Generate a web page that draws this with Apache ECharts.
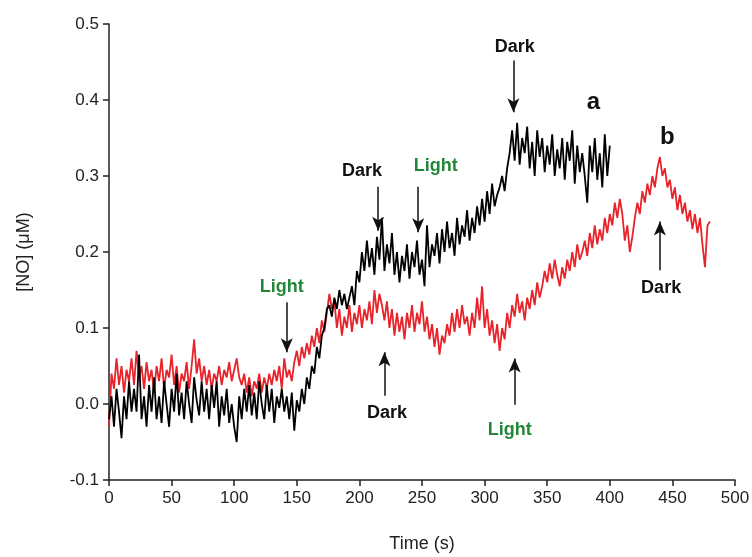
<!DOCTYPE html>
<html><head><meta charset="utf-8">
<script src="https://cdn.jsdelivr.net/npm/echarts@6/dist/echarts.min.js"></script>
<style>html,body{margin:0;padding:0;background:#fff}#c{width:752px;height:557px}</style>
</head><body><div id="c"></div>
<script>
const timeStep = 2;
const seriesA = [
-0.02,0.01,-0.03,0.02,-0.01,-0.045,0.01,-0.02,0.03,-0.01,
0.02,-0.01,0.065,-0.02,0.01,-0.03,0.025,-0.01,0.035,-0.02,
0.01,-0.025,0.03,0.0,-0.03,0.02,-0.01,0.04,-0.015,0.015,
-0.02,0.03,0.0,-0.025,0.035,0.005,-0.015,0.03,-0.01,0.02,
-0.02,0.025,-0.005,0.03,-0.03,0.01,-0.015,0.02,-0.025,0.0,
-0.03,-0.05,0.01,-0.02,0.02,-0.01,0.025,-0.015,0.015,-0.02,
0.03,0.0,-0.02,0.025,-0.01,0.02,-0.025,0.01,-0.005,0.02,
-0.01,0.01,-0.02,0.015,-0.035,0.005,-0.01,0.02,0.0,0.035,
0.02,0.05,0.04,0.075,0.06,0.09,0.1,0.125,0.13,0.115,
0.14,0.125,0.15,0.13,0.145,0.125,0.14,0.155,0.13,0.175,
0.16,0.2,0.175,0.215,0.18,0.205,0.17,0.22,0.19,0.245,
0.175,0.21,0.185,0.225,0.17,0.2,0.16,0.195,0.175,0.21,
0.165,0.2,0.18,0.215,0.17,0.19,0.155,0.235,0.18,0.21,
0.195,0.225,0.185,0.23,0.2,0.24,0.205,0.225,0.195,0.245,
0.21,0.235,0.22,0.255,0.215,0.245,0.225,0.26,0.235,0.27,
0.24,0.28,0.25,0.29,0.26,0.275,0.285,0.3,0.28,0.31,
0.33,0.36,0.32,0.37,0.315,0.35,0.33,0.365,0.31,0.345,
0.3,0.36,0.325,0.35,0.305,0.34,0.315,0.355,0.3,0.335,
0.31,0.35,0.295,0.345,0.32,0.36,0.29,0.34,0.305,0.33,
0.3,0.265,0.34,0.305,0.35,0.295,0.33,0.285,0.355,0.3,
0.34
];
const seriesB = [
-0.03,0.04,0.02,0.06,0.025,0.05,0.015,0.045,0.03,0.06,
0.025,0.07,0.035,0.05,0.02,0.055,0.03,0.045,0.015,0.05,
0.03,0.06,0.02,0.045,0.035,0.065,0.025,0.05,0.015,0.04,
0.03,0.055,0.02,0.05,0.085,0.04,0.06,0.03,0.05,0.025,
0.045,0.02,0.04,0.03,0.05,0.025,0.045,0.035,0.055,0.03,
0.045,0.06,0.035,0.025,0.04,0.015,0.035,0.01,0.03,0.02,
0.04,0.015,0.035,0.02,0.04,0.025,0.045,0.03,0.05,0.02,
0.06,0.035,0.045,0.03,0.055,0.07,0.05,0.075,0.06,0.08,
0.065,0.09,0.075,0.1,0.08,0.11,0.095,0.12,0.145,0.125,
0.135,0.1,0.125,0.09,0.115,0.1,0.13,0.095,0.12,0.105,
0.13,0.1,0.125,0.11,0.135,0.105,0.15,0.12,0.145,0.13,
0.11,0.135,0.1,0.125,0.09,0.12,0.095,0.115,0.085,0.12,
0.1,0.13,0.095,0.12,0.105,0.135,0.095,0.115,0.085,0.105,
0.075,0.1,0.065,0.09,0.08,0.105,0.09,0.12,0.095,0.125,
0.1,0.13,0.105,0.115,0.09,0.12,0.1,0.14,0.11,0.155,
0.1,0.125,0.09,0.11,0.08,0.105,0.07,0.1,0.085,0.12,
0.1,0.13,0.115,0.145,0.12,0.135,0.11,0.14,0.125,0.15,
0.13,0.16,0.14,0.155,0.175,0.16,0.185,0.165,0.19,0.17,
0.155,0.18,0.165,0.19,0.175,0.2,0.18,0.21,0.19,0.2,
0.215,0.195,0.225,0.205,0.235,0.21,0.23,0.215,0.245,0.225,
0.25,0.235,0.265,0.245,0.27,0.25,0.215,0.235,0.2,0.22,
0.245,0.265,0.25,0.28,0.265,0.29,0.275,0.3,0.285,0.31,
0.325,0.3,0.31,0.285,0.295,0.27,0.285,0.255,0.275,0.25,
0.265,0.24,0.255,0.23,0.25,0.225,0.245,0.21,0.18,0.235,
0.24
];
const xTicks = {min: 0, max: 500, interval: 50};
const yTicks = {min: -0.1, max: 0.5, interval: 0.1};
// annotations: [label, color, textX, textY, arrowX, arrowFromY, arrowToY]
const annotations = [
  ['Dark', '#111', 324, 0.47, 323, 0.452, 0.384],
  ['Dark', '#111', 202, 0.307, 215, 0.286, 0.228],
  ['Light', '#23873a', 261, 0.313, 247, 0.286, 0.226],
  ['Light', '#23873a', 138, 0.154, 142, 0.134, 0.068],
  ['Dark', '#111', 222, -0.012, 220, 0.011, 0.068],
  ['Light', '#23873a', 320, -0.034, 324, -0.001, 0.06],
  ['Dark', '#111', 441, 0.153, 440, 0.176, 0.24]
];
const curveLabels = [['a', 387, 0.397], ['b', 446, 0.351]];

const toPairs = arr => arr.map((v, i) => [i * timeStep, v]);
const FONT = 'Liberation Sans, Arial, sans-serif';

const chart = echarts.init(document.getElementById('c'), null, {renderer: 'canvas'});
chart.setOption({
  animation: false,
  backgroundColor: '#fff',
  grid: {left: 109, right: 17, top: 24, bottom: 77, containLabel: false, outerBoundsMode: 'none'},
  xAxis: {
    type: 'value', min: xTicks.min, max: xTicks.max, interval: xTicks.interval,
    name: 'Time (s)', nameLocation: 'middle', nameGap: 55,
    nameTextStyle: {fontFamily: FONT, fontSize: 18, color: '#222'},
    axisLine: {show: true, onZero: false, lineStyle: {color: '#222', width: 1.5}},
    axisTick: {show: true, inside: false, length: 6, lineStyle: {color: '#222', width: 1.5}},
    axisLabel: {fontFamily: FONT, fontSize: 17, color: '#222', margin: 10},
    splitLine: {show: false}
  },
  yAxis: {
    type: 'value', min: yTicks.min, max: yTicks.max, interval: yTicks.interval,
    name: '[NO] (\u03bcM)', nameLocation: 'middle', nameGap: 76,
    nameTextStyle: {fontFamily: FONT, fontSize: 18, color: '#222'},
    axisLine: {show: true, onZero: false, lineStyle: {color: '#222', width: 1.5}},
    axisTick: {show: true, inside: false, length: 6, lineStyle: {color: '#222', width: 1.5}},
    axisLabel: {fontFamily: FONT, fontSize: 17, color: '#222', margin: 10,
      formatter: v => v.toFixed(1)},
    splitLine: {show: false}
  },
  series: [
    {
      name: 'b', type: 'line', data: toPairs(seriesB), symbol: 'none',
      lineStyle: {color: '#e8232a', width: 1.8}, z: 2,
      markPoint: {
        symbol: 'rect', symbolSize: 1, itemStyle: {color: 'rgba(0,0,0,0)'},
        data: annotations.map(a => ({coord: [a[2], a[3]], label: {show: true, formatter: a[0],
          color: a[1], fontFamily: FONT, fontWeight: 'bold', fontSize: 18, position: 'inside'}}))
          .concat(curveLabels.map(c => ({coord: [c[1], c[2]], label: {show: true, formatter: c[0],
          color: '#111', fontFamily: FONT, fontWeight: 'bold', fontSize: 24, position: 'inside'}})))
      },
      markLine: {
        silent: true, symbol: ['none', 'arrow'], symbolSize: [9, 14],
        lineStyle: {color: '#111', width: 1.5, type: 'solid'}, label: {show: false},
        data: annotations.map(a => [{coord: [a[4], a[5]]}, {coord: [a[4], a[6]]}])
      }
    },
    {
      name: 'a', type: 'line', data: toPairs(seriesA), symbol: 'none',
      lineStyle: {color: '#000', width: 1.8}, z: 3
    }
  ]
});
</script></body></html>
